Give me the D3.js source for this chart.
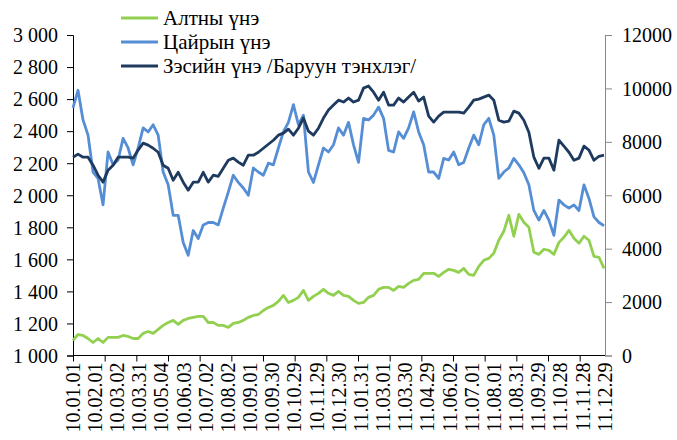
<!DOCTYPE html>
<html>
<head>
<meta charset="utf-8">
<script src="https://cdn.jsdelivr.net/npm/d3@7"></script>
<style>
  body { margin: 0; background: #fff; }
  svg { display: block; }
  svg text { font-family: "Liberation Serif", "Times New Roman", serif; }
</style>
</head>
<body>
<div id="chart"></div>
<script>
// date labels on the category axis (one every 21 trading days)
var xLabels = ["10.01.01","10.02.01","10.03.02","10.03.31","10.05.04","10.06.03","10.07.02",
  "10.08.02","10.09.01","10.09.30","10.10.29","10.11.29","10.12.30","11.01.31","11.03.01",
  "11.03.30","11.04.29","11.06.02","11.07.01","11.08.01","11.08.31","11.09.29","11.10.28",
  "11.11.28","11.12.29"];

var seriesNames = ["Алтны үнэ", "Цайрын үнэ", "Зэсийн үнэ /Баруун тэнхлэг/"];

// values, roughly every 5 trading days
var gold = [1094,1131,1125,1106,1081,1106,1081,1113,1113,1113,
  1125,1119,1106,1106,1138,1150,1138,1163,1188,1206,
  1219,1194,1219,1231,1238,1244,1244,1206,1206,1188,
  1188,1175,1200,1206,1219,1238,1250,1256,1281,1300,
  1313,1338,1375,1331,1344,1363,1406,1344,1369,1388,
  1413,1388,1375,1400,1375,1369,1344,1325,1331,1363,
  1375,1413,1425,1425,1406,1431,1425,1450,1469,1475,
  1513,1513,1513,1494,1519,1538,1531,1519,1544,1506,
  1500,1556,1594,1606,1638,1719,1775,1875,1744,1881,
  1831,1800,1644,1631,1663,1656,1631,1706,1738,1781,
  1731,1700,1744,1719,1619,1613,1544];

var zinc = [2545,2655,2470,2375,2145,2105,1940,2270,2190,2220,
  2355,2295,2190,2295,2420,2395,2440,2375,2145,2065,
  1875,1875,1705,1625,1780,1730,1815,1830,1830,1815,
  1920,2020,2125,2080,2045,2000,2170,2145,2125,2200,
  2190,2295,2395,2455,2565,2440,2500,2145,2080,2190,
  2295,2270,2315,2420,2375,2455,2315,2205,2480,2470,
  2500,2550,2480,2280,2270,2395,2355,2420,2520,2395,
  2315,2145,2145,2105,2230,2220,2270,2190,2205,2295,
  2375,2315,2440,2480,2375,2105,2145,2170,2230,2190,
  2140,2065,1905,1845,1905,1845,1750,1970,1940,1920,
  1940,1905,2065,1980,1865,1830,1810];

var copper = [7425,7540,7425,7425,7125,6750,6490,6940,7125,7425,
  7425,7425,7390,7690,7950,7875,7760,7610,7125,7010,
  6560,6860,6490,6190,6490,6490,6860,6490,6750,6710,
  7010,7310,7390,7240,7125,7500,7500,7610,7760,7910,
  8060,8250,8325,8475,8250,8510,8890,8400,8250,8510,
  8890,9190,9375,9560,9490,9640,9490,9560,10010,10090,
  9860,9560,9860,9375,9375,9640,9490,9675,9860,9525,
  9675,8960,8740,8960,9110,9110,9110,9110,9075,9300,
  9560,9600,9675,9750,9560,8810,8740,8775,9150,9075,
  8810,8360,7425,7010,7390,7390,6940,8060,7840,7610,
  7310,7390,7840,7690,7310,7460,7500];

var leftTicks = [1000,1200,1400,1600,1800,2000,2200,2400,2600,2800,3000];
var rightTicks = [0,2000,4000,6000,8000,10000,12000];

(function() {
  var width = 677, height = 440;
  var x0 = 73, x1 = 605, yTop = 35, yBottom = 355.5;
  var colors = ["#92d050", "#558ed5", "#1f3a5f"];
  var fontSize = "20px";
  var fontFamily = "'Liberation Serif', 'Times New Roman', serif";

  var svg = d3.select("#chart").append("svg")
      .attr("width", width)
      .attr("height", height)
      .attr("font-family", fontFamily);

  var yLeft = d3.scaleLinear().domain([1000, 3000]).range([yBottom, yTop]);
  var yRight = d3.scaleLinear().domain([0, 12000]).range([yBottom, yTop]);

  // labels and tick marks sit on a trading-day scale (labels every 21 days, ticks every 30)
  var nDays = (xLabels.length - 1) * 21;
  var xDay = d3.scaleLinear().domain([0, nDays]).range([x0, x1]);
  var xLab = d3.scalePoint().domain(xLabels).range([x0, x1]);

  // left axis
  var gl = svg.append("g")
      .attr("transform", `translate(${x0},0)`)
      .call(d3.axisLeft(yLeft).tickValues(leftTicks).tickSize(6).tickPadding(9)
        .tickFormat(d => d3.format(",")(d).replace(",", " ")));
  gl.attr("font-family", fontFamily);
  gl.select(".domain").attr("stroke", "#000");
  gl.selectAll(".tick line").attr("stroke", "#000");
  gl.selectAll("text").style("font-size", fontSize).attr("fill", "#000").attr("dy", "0.34em");

  // right axis
  var gr = svg.append("g")
      .attr("transform", `translate(${x1},0)`)
      .call(d3.axisRight(yRight).tickValues(rightTicks).tickSize(7).tickPadding(10)
        .tickFormat(d3.format("d")));
  gr.attr("font-family", fontFamily);
  gr.select(".domain").attr("stroke", "#888");
  gr.selectAll(".tick line").attr("stroke", "#888");
  gr.selectAll("text").style("font-size", fontSize).attr("fill", "#000").attr("dy", "0.34em");

  // bottom axis: tick marks every 30 days
  var gx = svg.append("g")
      .attr("transform", `translate(0,${yBottom})`)
      .call(d3.axisBottom(xDay).tickValues(d3.range(0, nDays, 30)).tickSize(6).tickFormat(""));
  gx.select(".domain").attr("stroke", "#000").attr("d", `M${x0},0H${x1}`);
  gx.selectAll(".tick line").attr("stroke", "#000");

  svg.append("g")
    .selectAll("text")
    .data(xLabels)
    .enter().append("text")
      .attr("transform", d => `translate(${xLab(d)},${yBottom + 7}) rotate(-90)`)
      .attr("dy", "0.34em")
      .attr("text-anchor", "end")
      .style("font-size", fontSize)
      .text(d => d);

  // series
  var series = [
    {name: seriesNames[0], values: gold, y: yLeft, color: colors[0]},
    {name: seriesNames[1], values: zinc, y: yLeft, color: colors[1]},
    {name: seriesNames[2], values: copper, y: yRight, color: colors[2]}
  ];

  series.forEach(function(s) {
    var xs = d3.scaleLinear().domain([0, s.values.length - 1]).range([x0, x1 - 1]);
    svg.append("path")
        .datum(s.values)
        .attr("fill", "none")
        .attr("stroke", s.color)
        .attr("stroke-width", 2.8)
        .attr("stroke-linejoin", "round")
        .attr("d", d3.line().x((d, i) => xs(i)).y(d => s.y(d)));
  });

  // legend
  var legend = svg.append("g")
    .selectAll("g")
    .data(series)
    .enter().append("g")
      .attr("transform", (d, i) => `translate(121,${18 + i * 24})`);

  legend.append("line")
      .attr("x1", 0).attr("x2", 37)
      .attr("stroke", d => d.color)
      .attr("stroke-width", 3);

  legend.append("text")
      .attr("x", 42)
      .attr("dy", "0.34em")
      .style("font-size", "21px")
      .text(d => d.name);
})();
</script>
</body>
</html>
